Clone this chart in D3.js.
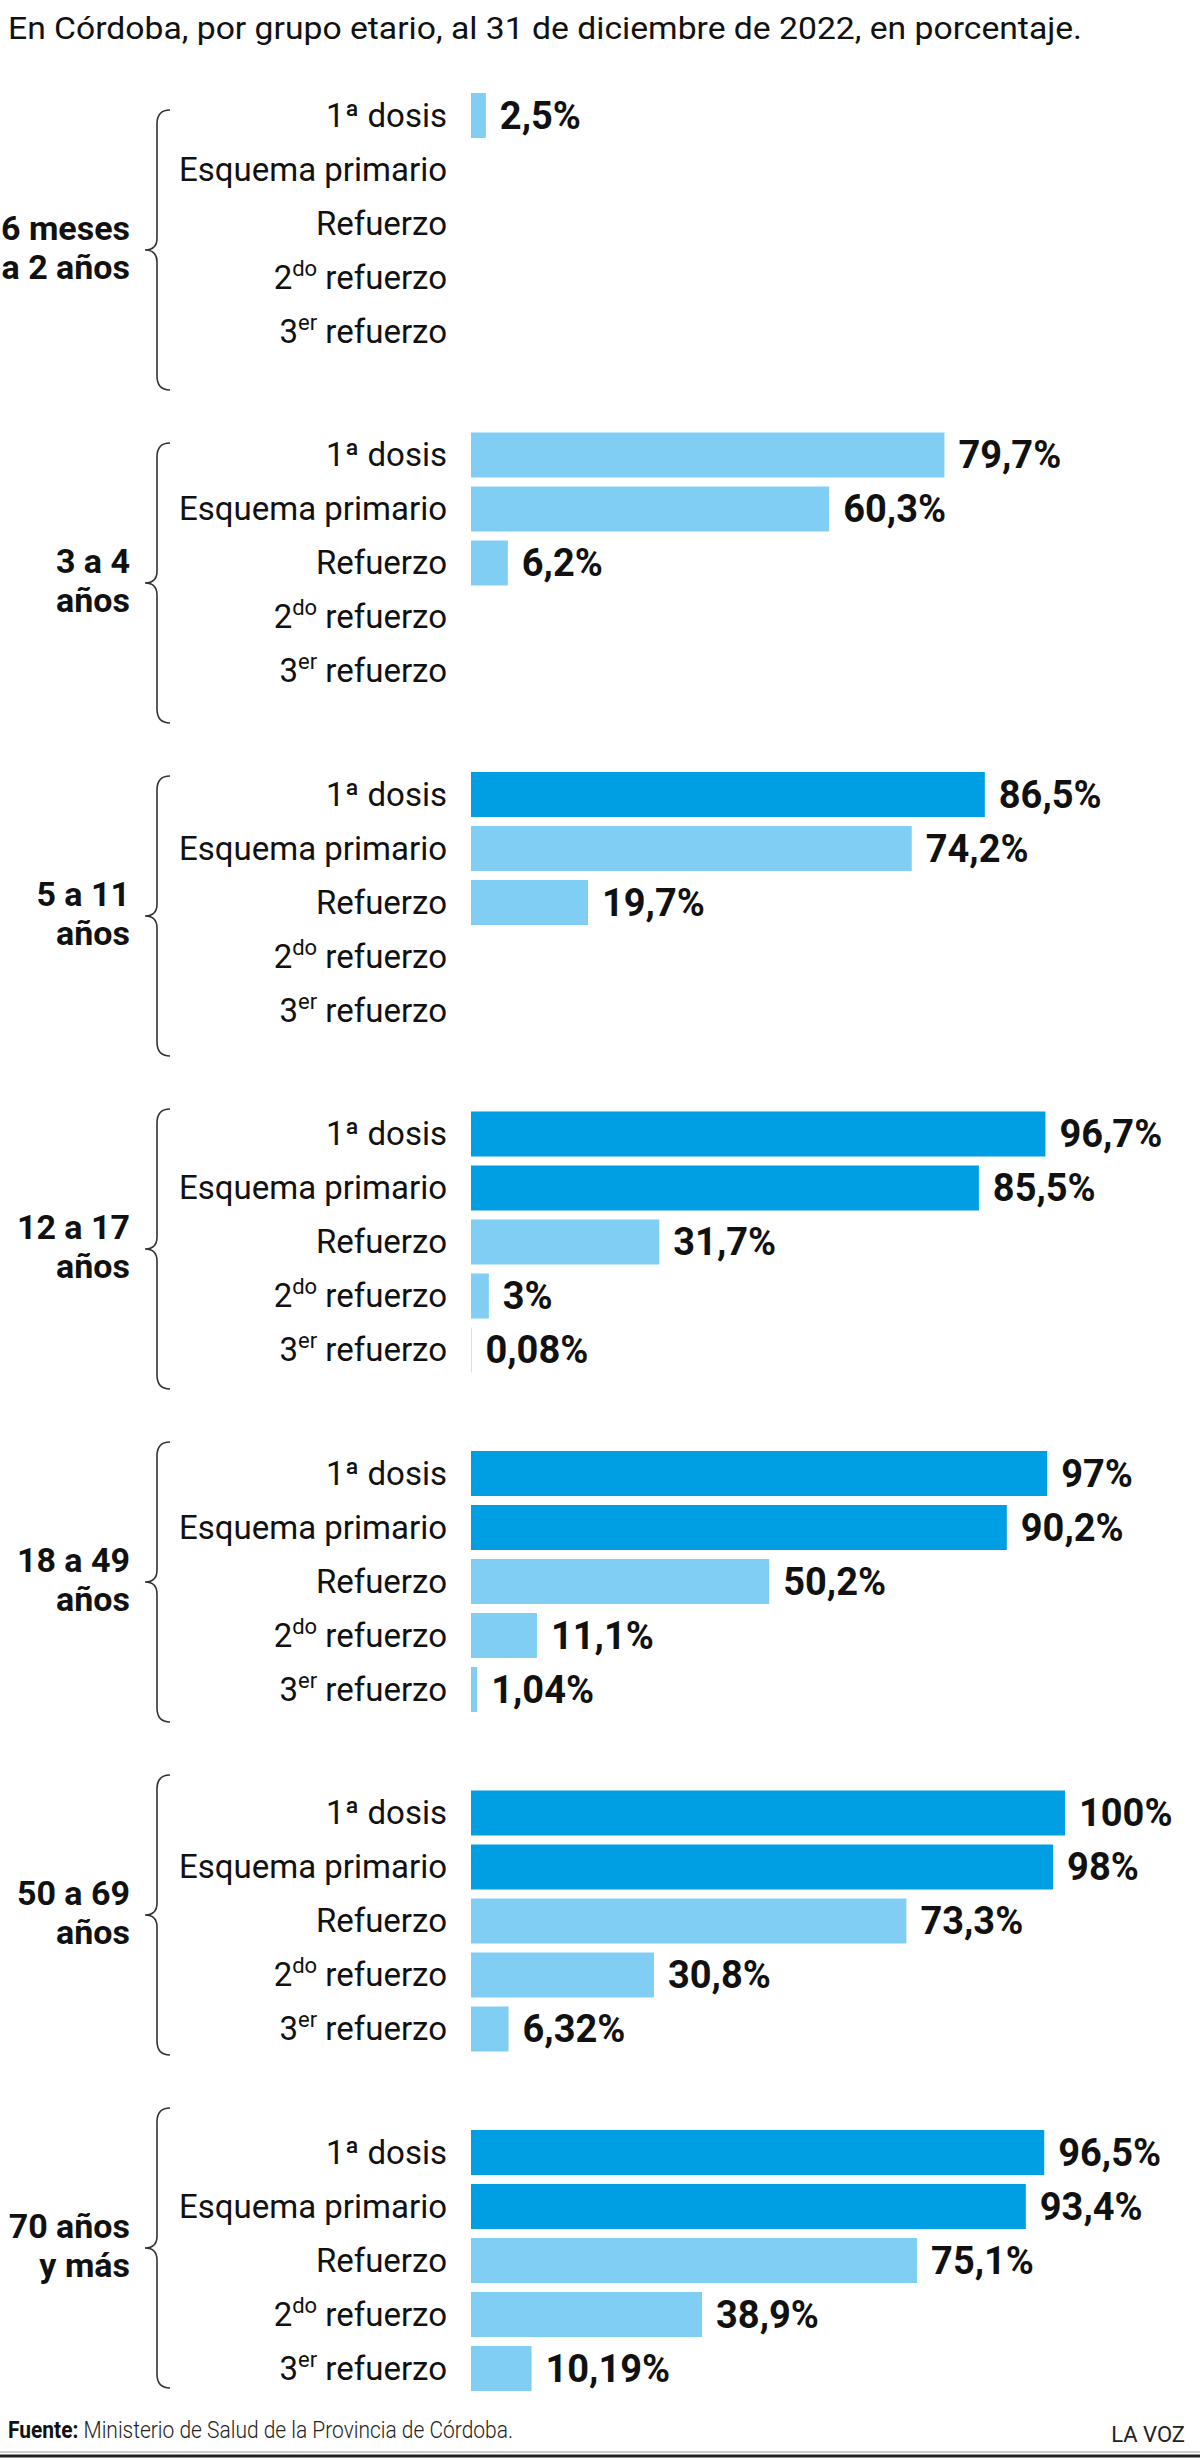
<!DOCTYPE html>
<html>
<head>
<meta charset="utf-8">
<script src="https://cdn.jsdelivr.net/npm/d3@7"></script>
<style>
  html, body { margin: 0; padding: 0; background: #fff; }
  svg { display: block; font-family: Roboto, "Noto Sans", sans-serif; }
</style>
</head>
<body>
<div id="chart"></div>
<script>
// Vacunación COVID en Córdoba — barras horizontales por grupo etario

const titleText = "En Córdoba, por grupo etario, al 31 de diciembre de 2022, en porcentaje.";

const groupLines = [
    ["6 meses", "a 2 años"],
    ["3 a 4", "años"],
    ["5 a 11", "años"],
    ["12 a 17", "años"],
    ["18 a 49", "años"],
    ["50 a 69", "años"],
    ["70 años", "y más"]
];

// dose labels: [base, superscript, rest]
const doseLabels = [
    ["1ª dosis", "", ""],
    ["Esquema primario", "", ""],
    ["Refuerzo", "", ""],
    ["2", "do", " refuerzo"],
    ["3", "er", " refuerzo"]
];

// values per dose, one entry per age group (null = no bar)
const primeraDosis    = [2.5, 79.7, 86.5, 96.7, 97, 100, 96.5];
const esquemaPrimario = [null, 60.3, 74.2, 85.5, 90.2, 98, 93.4];
const refuerzo        = [null, 6.2, 19.7, 31.7, 50.2, 73.3, 75.1];
const segundoRefuerzo = [null, null, null, 3, 11.1, 30.8, 38.9];
const tercerRefuerzo  = [null, null, null, 0.08, 1.04, 6.32, 10.19];

const series = [primeraDosis, esquemaPrimario, refuerzo, segundoRefuerzo, tercerRefuerzo];

const W = 1200, H = 2460;
const lightBlue = "#80cef3";
const darkBlue = "#009ee2";

const svg = d3.select("#chart")
    .append("svg")
    .attr("width", W)
    .attr("height", H);

svg.append("rect").attr("width", W).attr("height", H).attr("fill", "#fff");

// title
svg.append("text")
    .attr("x", 8)
    .attr("y", 39)
    .attr("font-size", 32)
    .attr("fill", "#111")
    .attr("textLength", 1074)
    .attr("lengthAdjust", "spacingAndGlyphs")
    .text(titleText);

// scales
const groupIdx = d3.range(groupLines.length);
const yGroup = d3.scaleBand().domain(groupIdx).range([93, 93 + 7 * 339.5]);
const yRow = d3.scaleBand().domain(d3.range(5)).range([0, 261]).paddingInner(9 / 54);
const x = d3.scaleLinear().domain([0, 100]).range([471, 1065]);
const yBrace = d3.scaleLinear().domain([0, 6]).range([110, 2108]);
const braceLen = 280;

const fmt = v => String(v).replace(".", ",") + "%";

const g = svg.selectAll(".group")
    .data(groupIdx)
    .enter()
    .append("g")
    .attr("class", "group");

// brace
g.append("path")
    .attr("fill", "none")
    .attr("stroke", "#333")
    .attr("stroke-width", 1.6)
    .attr("d", i => {
        const y0 = yBrace(i), y1 = y0 + braceLen, ym = (y0 + y1) / 2;
        const xl = 157, xe = 170, xp = 145;
        return `M${xe},${y0} Q${xl},${y0} ${xl},${y0 + 14} L${xl},${ym - 12} ` +
               `Q${xl},${ym} ${xp},${ym} Q${xl},${ym} ${xl},${ym + 12} ` +
               `L${xl},${y1 - 14} Q${xl},${y1} ${xe},${y1}`;
    });

// group label
g.each(function (i) {
    const ym = yBrace(i) + braceLen / 2;
    const t = d3.select(this).append("text")
        .attr("text-anchor", "end")
        .attr("font-size", 34)
        .attr("font-weight", 700)
        .attr("fill", "#111");
    groupLines[i].forEach((line, k) => {
        t.append("tspan")
            .attr("x", 130)
            .attr("y", ym - 10 + k * 39)
            .text(line);
    });
});

// rows
g.each(function (i) {
    const gg = d3.select(this);
    doseLabels.forEach((lab, r) => {
        const yTop = yGroup(i) + yRow(r);
        const yc = yTop + yRow.bandwidth() / 2;

        const t = gg.append("text")
            .attr("x", 447)
            .attr("y", yc + 11)
            .attr("text-anchor", "end")
            .attr("font-size", 33)
            .attr("fill", "#111");
        t.append("tspan").text(lab[0]);
        if (lab[1]) {
            t.append("tspan").attr("font-size", 22).attr("dy", -13).text(lab[1]);
            t.append("tspan").attr("dy", 13).text(lab[2]);
        }

        const v = series[r][i];
        if (v == null) return;

        gg.append("rect")
            .attr("x", x(0))
            .attr("y", yTop)
            .attr("width", x(v) - x(0))
            .attr("height", yRow.bandwidth())
            .attr("fill", v >= 80 ? darkBlue : lightBlue);

        gg.append("text")
            .attr("x", x(v) + 14)
            .attr("y", yc + 13)
            .attr("font-size", 38)
            .attr("font-weight", 700)
            .attr("fill", "#111")
            .text(fmt(v));
    });
});

// footer
const foot = svg.append("text")
    .attr("x", 8)
    .attr("y", 2438)
    .attr("font-size", 23)
    .attr("fill", "#222")
    .attr("textLength", 505)
    .attr("lengthAdjust", "spacingAndGlyphs");
foot.append("tspan").attr("font-weight", 700).attr("fill", "#111").text("Fuente:");
foot.append("tspan").attr("font-weight", 300).text(" Ministerio de Salud de la Provincia de Córdoba.");

svg.append("text")
    .attr("x", 1185)
    .attr("y", 2442)
    .attr("text-anchor", "end")
    .attr("font-size", 22)
    .attr("fill", "#222")
    .text("LA VOZ");

svg.append("line")
    .attr("x1", 0).attr("x2", W)
    .attr("y1", 2452).attr("y2", 2452)
    .attr("stroke", "#999").attr("stroke-width", 1);
svg.append("line")
    .attr("x1", 0).attr("x2", W)
    .attr("y1", 2456).attr("y2", 2456)
    .attr("stroke", "#222").attr("stroke-width", 3);
</script>
</body>
</html>
